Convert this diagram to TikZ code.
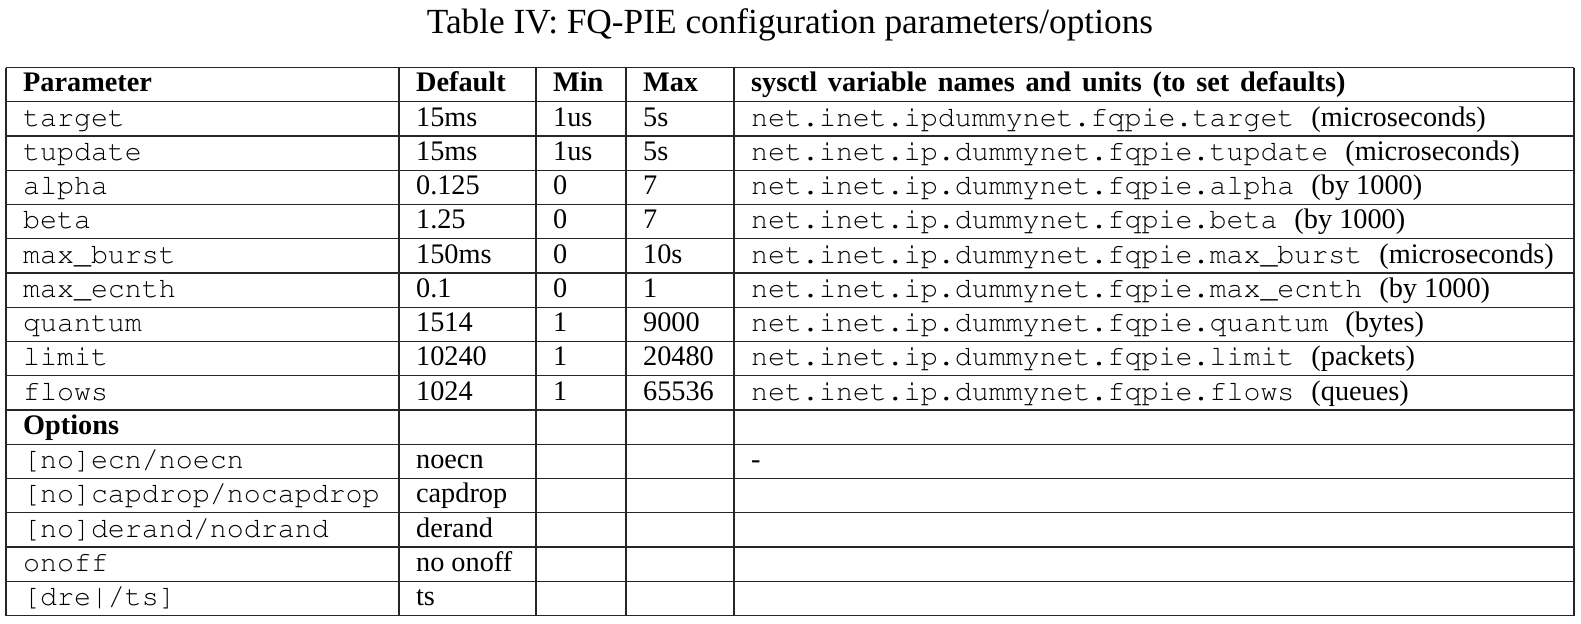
\documentclass[tikz,border=0pt]{standalone}
\usepackage[T1]{fontenc}
\usepackage{fontspec}
\setmainfont{Liberation Serif}
\newcommand\cour{\fontencoding{T1}\fontfamily{pcr}\selectfont}
\begin{document}
\begin{tikzpicture}[x=0.5pt,y=-0.5pt,
  cell/.style={anchor=base west,inner sep=0pt,font=\fontsize{14.15pt}{16pt}\selectfont},
  mono/.style={cell,font=\fontsize{14.15pt}{16pt}\selectfont\cour},
  head/.style={cell,font=\fontsize{14.15pt}{16pt}\selectfont\bfseries},
  titlestyle/.style={anchor=base,inner sep=0pt,font=\fontsize{17.65pt}{20pt}\selectfont},
  grid/.style={line width=0.6pt,draw=black!85}]
\useasboundingbox (0,0) rectangle (1581,623);
% title
\node[titlestyle] (title) at (790,33) {Table IV: FQ-PIE configuration parameters/options};
% grid
\foreach \k in {0,...,16}{
  \draw[grid] (6,{67.5+34.25*\k}) -- (1574,{67.5+34.25*\k});
}
\foreach \xx in {6,399,536,626,734,1574}{
  \draw[grid] (\xx,67.5) -- (\xx,615.5);
}
% header
\node[head] (h1) at (22.7,{91.9}) {Parameter};
\node[head] (h2) at (415.7,{91.9}) {Default};
\node[head] (h3) at (552.7,{91.9}) {Min};
\node[head] (h4) at (642.7,{91.9}) {Max};
\node[head] (h5) at (750.7,{91.9}) {\spaceskip=5.4pt plus 1pt sysctl variable names and units (to set defaults)};
% rows
\node[mono] (p1) at (22.7,{91.9+34.25*1}) {target};
\node[cell] (d1) at (415.7,{91.9+34.25*1}) {15ms};
\node[cell] (n1) at (552.7,{91.9+34.25*1}) {1us};
\node[cell] (m1) at (642.7,{91.9+34.25*1}) {5s};
\node[cell] (s1) at (750.7,{91.9+34.25*1}) {{\cour net.inet.ipdummynet.fqpie.target }(microseconds)};

\node[mono] (p2) at (22.7,{91.9+34.25*2}) {tupdate};
\node[cell] (d2) at (415.7,{91.9+34.25*2}) {15ms};
\node[cell] (n2) at (552.7,{91.9+34.25*2}) {1us};
\node[cell] (m2) at (642.7,{91.9+34.25*2}) {5s};
\node[cell] (s2) at (750.7,{91.9+34.25*2}) {{\cour net.inet.ip.dummynet.fqpie.tupdate }(microseconds)};

\node[mono] (p3) at (22.7,{91.9+34.25*3}) {alpha};
\node[cell] (d3) at (415.7,{91.9+34.25*3}) {0.125};
\node[cell] (n3) at (552.7,{91.9+34.25*3}) {0};
\node[cell] (m3) at (642.7,{91.9+34.25*3}) {7};
\node[cell] (s3) at (750.7,{91.9+34.25*3}) {{\cour net.inet.ip.dummynet.fqpie.alpha }(by 1000)};

\node[mono] (p4) at (22.7,{91.9+34.25*4}) {beta};
\node[cell] (d4) at (415.7,{91.9+34.25*4}) {1.25};
\node[cell] (n4) at (552.7,{91.9+34.25*4}) {0};
\node[cell] (m4) at (642.7,{91.9+34.25*4}) {7};
\node[cell] (s4) at (750.7,{91.9+34.25*4}) {{\cour net.inet.ip.dummynet.fqpie.beta }(by 1000)};

\node[mono] (p5) at (22.7,{91.9+34.25*5}) {max\_burst};
\node[cell] (d5) at (415.7,{91.9+34.25*5}) {150ms};
\node[cell] (n5) at (552.7,{91.9+34.25*5}) {0};
\node[cell] (m5) at (642.7,{91.9+34.25*5}) {10s};
\node[cell] (s5) at (750.7,{91.9+34.25*5}) {{\cour net.inet.ip.dummynet.fqpie.max\_burst }(microseconds)};

\node[mono] (p6) at (22.7,{91.9+34.25*6}) {max\_ecnth};
\node[cell] (d6) at (415.7,{91.9+34.25*6}) {0.1};
\node[cell] (n6) at (552.7,{91.9+34.25*6}) {0};
\node[cell] (m6) at (642.7,{91.9+34.25*6}) {1};
\node[cell] (s6) at (750.7,{91.9+34.25*6}) {{\cour net.inet.ip.dummynet.fqpie.max\_ecnth }(by 1000)};

\node[mono] (p7) at (22.7,{91.9+34.25*7}) {quantum};
\node[cell] (d7) at (415.7,{91.9+34.25*7}) {1514};
\node[cell] (n7) at (552.7,{91.9+34.25*7}) {1};
\node[cell] (m7) at (642.7,{91.9+34.25*7}) {9000};
\node[cell] (s7) at (750.7,{91.9+34.25*7}) {{\cour net.inet.ip.dummynet.fqpie.quantum }(bytes)};

\node[mono] (p8) at (22.7,{91.9+34.25*8}) {limit};
\node[cell] (d8) at (415.7,{91.9+34.25*8}) {10240};
\node[cell] (n8) at (552.7,{91.9+34.25*8}) {1};
\node[cell] (m8) at (642.7,{91.9+34.25*8}) {20480};
\node[cell] (s8) at (750.7,{91.9+34.25*8}) {{\cour net.inet.ip.dummynet.fqpie.limit }(packets)};

\node[mono] (p9) at (22.7,{91.9+34.25*9}) {flows};
\node[cell] (d9) at (415.7,{91.9+34.25*9}) {1024};
\node[cell] (n9) at (552.7,{91.9+34.25*9}) {1};
\node[cell] (m9) at (642.7,{91.9+34.25*9}) {65536};
\node[cell] (s9) at (750.7,{91.9+34.25*9}) {{\cour net.inet.ip.dummynet.fqpie.flows }(queues)};

\node[head] (opt) at (22.7,{91.9+34.25*10}) {Options};

\node[mono] (o1) at (22.7,{91.9+34.25*11}) {[no]ecn/noecn};
\node[cell] (od1) at (415.7,{91.9+34.25*11}) {noecn};
\node[cell] (os1) at (750.7,{91.9+34.25*11}) {-};

\node[mono] (o2) at (22.7,{91.9+34.25*12}) {[no]capdrop/nocapdrop};
\node[cell] (od2) at (415.7,{91.9+34.25*12}) {capdrop};

\node[mono] (o3) at (22.7,{91.9+34.25*13}) {[no]derand/nodrand};
\node[cell] (od3) at (415.7,{91.9+34.25*13}) {derand};

\node[mono] (o4) at (22.7,{91.9+34.25*14}) {onoff};
\node[cell] (od4) at (415.7,{91.9+34.25*14}) {no onoff};

\node[mono] (o5) at (22.7,{91.9+34.25*15}) {[dre|/ts]};
\node[cell] (od5) at (415.7,{91.9+34.25*15}) {ts};
\end{tikzpicture}
\end{document}
